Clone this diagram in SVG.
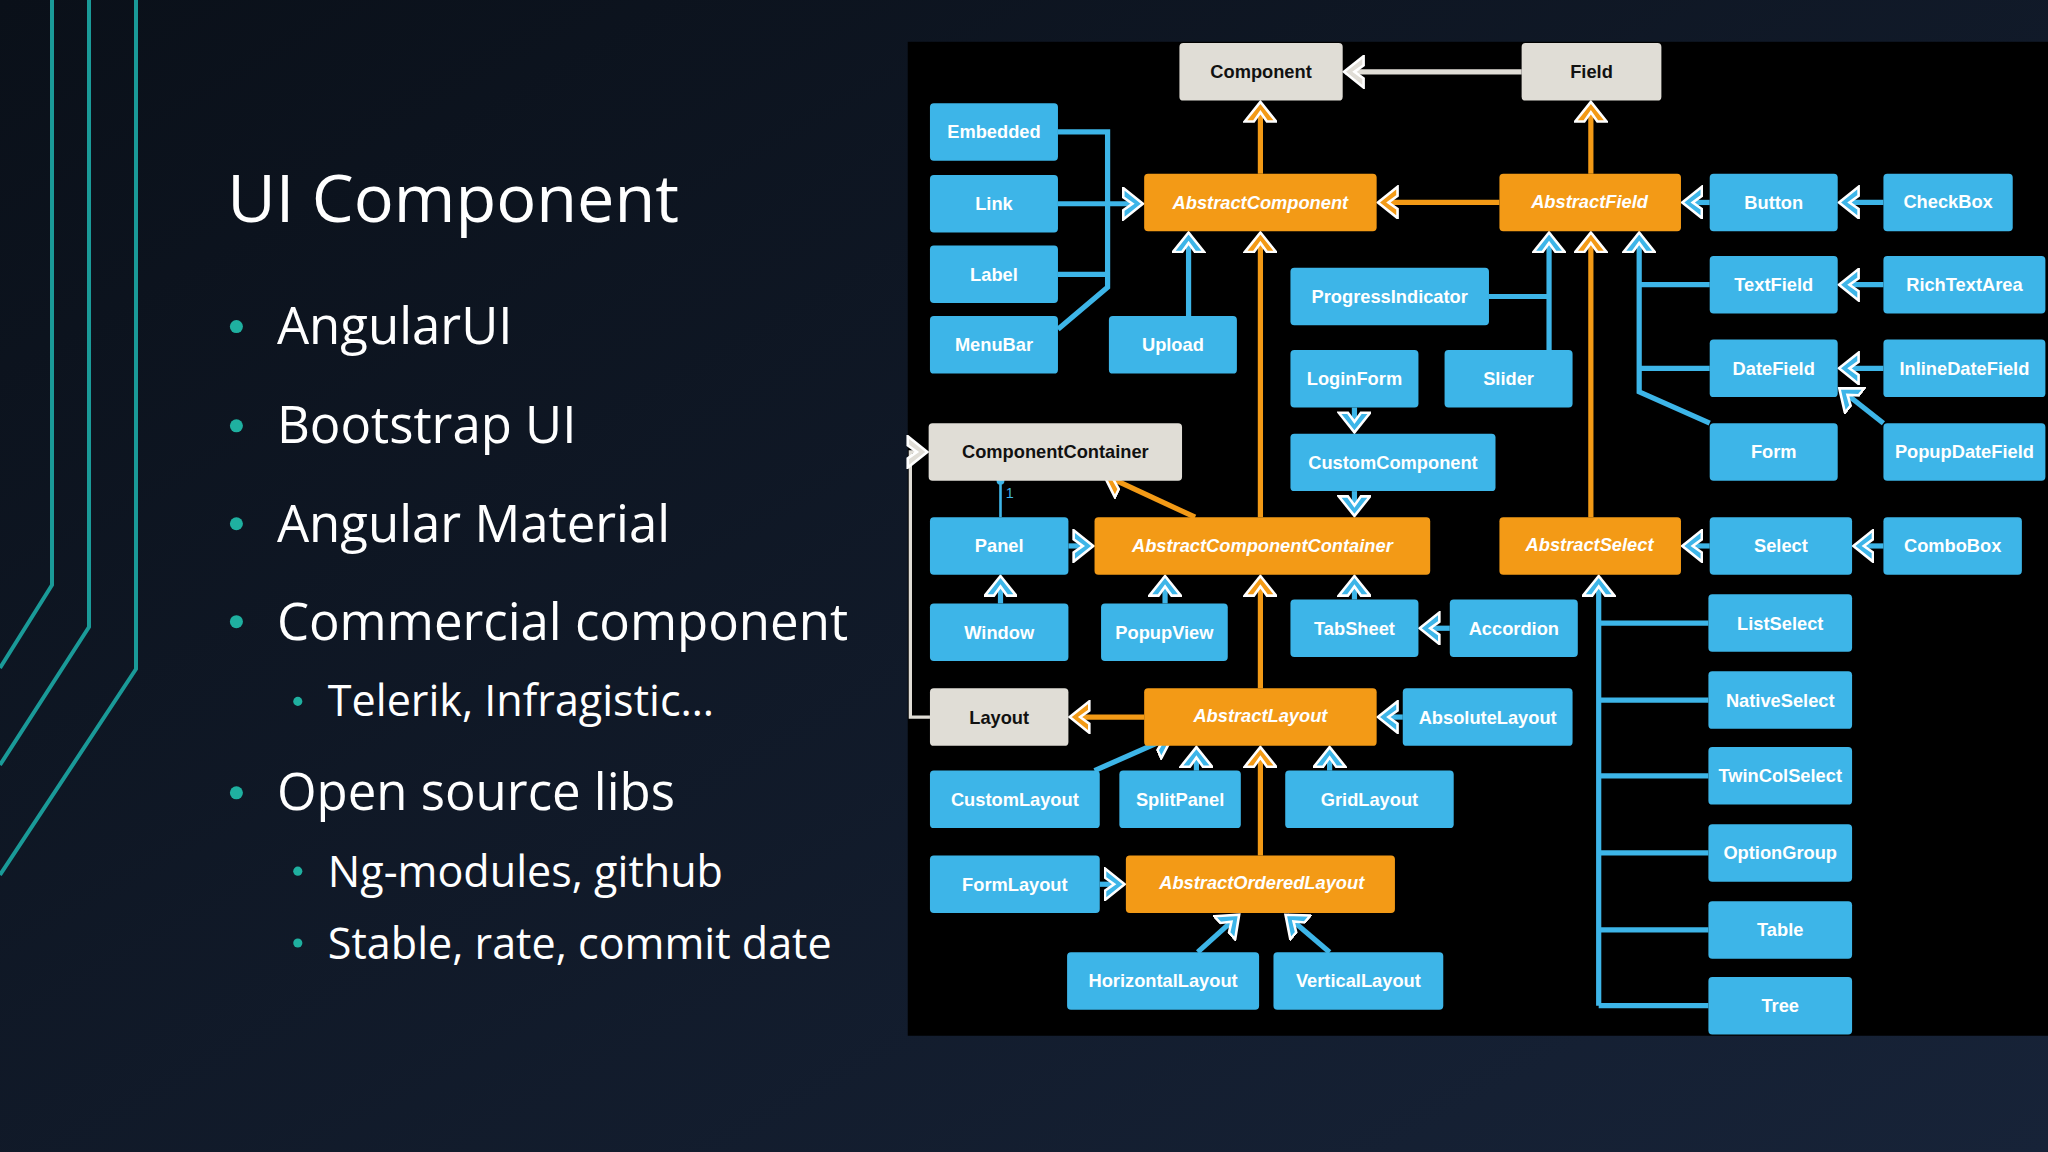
<svg xmlns="http://www.w3.org/2000/svg" width="2048" height="1152" viewBox="0 0 2048 1152">
<defs>
<linearGradient id="bg" x1="0" y1="0" x2="1" y2="1"><stop offset="0" stop-color="#0a1019"/><stop offset="1" stop-color="#172338"/></linearGradient>
<marker id="mb" markerUnits="userSpaceOnUse" markerWidth="18" markerHeight="26" refX="15" refY="13" orient="auto" viewBox="0 0 18 26"><path d="M1,1 L16,13 L1,25 L1,18 L8,13 L1,8 Z" fill="#3db5e8" stroke="#fff" stroke-width="2"/></marker>
<marker id="mo" markerUnits="userSpaceOnUse" markerWidth="18" markerHeight="26" refX="15" refY="13" orient="auto" viewBox="0 0 18 26"><path d="M1,1 L16,13 L1,25 L1,18 L8,13 L1,8 Z" fill="#f39a16" stroke="#fff" stroke-width="2"/></marker>
<marker id="mg" markerUnits="userSpaceOnUse" markerWidth="18" markerHeight="26" refX="15" refY="13" orient="auto" viewBox="0 0 18 26"><path d="M1,1 L16,13 L1,25 L1,18 L8,13 L1,8 Z" fill="#e0ddd6" stroke="#fff" stroke-width="2"/></marker>
<style>
.b rect{fill:#3db5e8}
.o rect{fill:#f39a16}
.g rect{fill:#e0ddd6}
text.n{font-family:"Liberation Sans",Arial,sans-serif;font-weight:bold;font-size:14px;fill:#fff;text-anchor:middle}
.o text.n{font-style:italic}
.g text.n{fill:#111}
.lb{stroke:#3db5e8;stroke-width:4;fill:none}
.lo{stroke:#f39a16;stroke-width:4;fill:none}
.lg{stroke:#e0ddd6;stroke-width:4;fill:none}
.ab{marker-end:url(#mb)}
.ao{marker-end:url(#mo)}
.ag{marker-end:url(#mg)}
.t{font-family:"Open Sans","Liberation Sans",sans-serif;fill:#fff}
</style>
</defs>
<rect width="2048" height="1152" fill="url(#bg)"/>
<g stroke="#1a9a98" stroke-width="4" fill="none">
<path d="M52,0 V585 L0,668"/>
<path d="M89,0 V627 L0,765"/>
<path d="M136,0 V669 L0,875"/>
</g>
<g transform="scale(1.30612)">
<g class="t">
<text x="174" y="170" font-size="51">UI Component</text>
<g font-size="39">
<text x="212" y="263">AngularUI</text>
<text x="212" y="339">Bootstrap UI</text>
<text x="212" y="415">Angular Material</text>
<text x="212" y="490">Commercial component</text>
<text x="212" y="620">Open source libs</text>
</g>
<g font-size="33">
<text x="251" y="548">Telerik, Infragistic…</text>
<text x="251" y="679">Ng-modules, github</text>
<text x="251" y="734">Stable, rate, commit date</text>
</g>
<g fill="#1fb0a0"><circle cx="181" cy="250" r="5"/><circle cx="181" cy="326" r="5"/><circle cx="181" cy="401" r="5"/><circle cx="181" cy="476" r="5"/><circle cx="181" cy="607" r="5"/><circle cx="228" cy="537" r="3.5"/><circle cx="228" cy="667" r="3.5"/><circle cx="228" cy="722" r="3.5"/></g>
</g>
<rect x="695" y="32" width="873" height="761" fill="#000"/>
<g id="connectors">
<path class="lg ag" d="M1165,55 H1030"/>
<path class="lo ao" d="M965,133 V79"/>
<path class="lo ao" d="M1218,133 V79"/>
<path class="lo ao" d="M1148,155 H1056"/>
<path class="lb" d="M810,101 H848 V220 L810,252 M810,210 H848"/>
<path class="lb ab" d="M810,156 H874"/>
<path class="lb ab" d="M910,242 V179"/>
<path class="lo ao" d="M965,396 V179"/>
<path class="lb ab" d="M1309,155 H1289"/>
<path class="lb ab" d="M1442,155 H1409"/>
<path class="lb" d="M1140,227 H1186"/>
<path class="lb ab" d="M1186,268 V179"/>
<path class="lo ao" d="M1218,396 V179"/>
<path class="lb ab" d="M1309,324 L1255,300 V179"/>
<path class="lb" d="M1309,218 H1255 M1309,282 H1255"/>
<path class="lb ab" d="M1442,218 H1409"/>
<path class="lb ab" d="M1442,282 H1409"/>
<path class="lb ab" d="M1442,324 L1409,298"/>
<path class="lb ab" d="M1037,312 V330"/>
<path class="lb ab" d="M1037,376 V394"/>
<path class="lo ao" d="M915,396 L846,364"/>
<path stroke="#3db5e8" stroke-width="2" fill="none" d="M766,396 V368"/>
<circle cx="766" cy="368" r="3" fill="#3db5e8"/>
<text x="770" y="381" font-family="Liberation Sans,sans-serif" font-size="11" fill="#3db5e8">1</text>
<path stroke="#e0ddd6" stroke-width="2.5" fill="none" class="ag" d="M712,549 H697 V346 H709"/>
<path class="lb ab" d="M818,418 H836"/>
<path class="lb ab" d="M766,462 V442"/>
<path class="lb ab" d="M892,462 V442"/>
<path class="lb ab" d="M1037,459 V442"/>
<path class="lb ab" d="M1110,481 H1088"/>
<path class="lo ao" d="M965,527 V442"/>
<path class="lo ao" d="M876,549 H820"/>
<path class="lb ab" d="M1074,549 H1056"/>
<path class="lb ab" d="M838,590 L897,564"/>
<path class="lb ab" d="M916,590 V573"/>
<path class="lb ab" d="M1018,590 V573"/>
<path class="lo ao" d="M965,655 V573"/>
<path class="lb ab" d="M842,677 H860"/>
<path class="lb ab" d="M917,729 L948,701"/>
<path class="lb ab" d="M1018,729 L985,701"/>
<path class="lb ab" d="M1309,418 H1289"/>
<path class="lb ab" d="M1442,418 H1420"/>
<path class="lb ab" d="M1224,770 V442"/>
<path class="lb" d="M1224,477 H1308 M1224,536 H1308 M1224,594 H1308 M1224,653 H1308 M1224,712 H1308 M1224,770 H1308"/>
</g>
<g id="Component" class="g"><rect x="903" y="33" width="125" height="44" rx="3"/><text class="n" x="965.5" y="60">Component</text></g>
<g id="Field" class="g"><rect x="1165" y="33" width="107" height="44" rx="3"/><text class="n" x="1218.5" y="60">Field</text></g>
<g id="Embedded" class="b"><rect x="712" y="79" width="98" height="44" rx="3"/><text class="n" x="761" y="106">Embedded</text></g>
<g id="Link" class="b"><rect x="712" y="134" width="98" height="44" rx="3"/><text class="n" x="761" y="161">Link</text></g>
<g id="Label" class="b"><rect x="712" y="188" width="98" height="44" rx="3"/><text class="n" x="761" y="215">Label</text></g>
<g id="MenuBar" class="b"><rect x="712" y="242" width="98" height="44" rx="3"/><text class="n" x="761" y="269">MenuBar</text></g>
<g id="AbstractComponent" class="o"><rect x="876" y="133" width="178" height="44" rx="3"/><text class="n" x="965" y="160">AbstractComponent</text></g>
<g id="Upload" class="b"><rect x="849" y="242" width="98" height="44" rx="3"/><text class="n" x="898" y="269">Upload</text></g>
<g id="AbstractField" class="o"><rect x="1148" y="133" width="139" height="44" rx="3"/><text class="n" x="1217" y="159">AbstractField</text></g>
<g id="Button" class="b"><rect x="1309" y="133" width="98" height="44" rx="3"/><text class="n" x="1358" y="160">Button</text></g>
<g id="CheckBox" class="b"><rect x="1442" y="133" width="99" height="44" rx="3"/><text class="n" x="1491.5" y="159">CheckBox</text></g>
<g id="ProgressIndicator" class="b"><rect x="988" y="205" width="152" height="44" rx="3"/><text class="n" x="1064" y="232">ProgressIndicator</text></g>
<g id="TextField" class="b"><rect x="1309" y="196" width="98" height="44" rx="3"/><text class="n" x="1358" y="223">TextField</text></g>
<g id="RichTextArea" class="b"><rect x="1442" y="196" width="124" height="44" rx="3"/><text class="n" x="1504" y="223">RichTextArea</text></g>
<g id="LoginForm" class="b"><rect x="988" y="268" width="98" height="44" rx="3"/><text class="n" x="1037" y="295">LoginForm</text></g>
<g id="Slider" class="b"><rect x="1106" y="268" width="98" height="44" rx="3"/><text class="n" x="1155" y="295">Slider</text></g>
<g id="DateField" class="b"><rect x="1309" y="260" width="98" height="44" rx="3"/><text class="n" x="1358" y="287">DateField</text></g>
<g id="InlineDateField" class="b"><rect x="1442" y="260" width="124" height="44" rx="3"/><text class="n" x="1504" y="287">InlineDateField</text></g>
<g id="Form" class="b"><rect x="1309" y="324" width="98" height="44" rx="3"/><text class="n" x="1358" y="351">Form</text></g>
<g id="PopupDateField" class="b"><rect x="1442" y="324" width="124" height="44" rx="3"/><text class="n" x="1504" y="351">PopupDateField</text></g>
<g id="ComponentContainer" class="g"><rect x="711" y="324" width="194" height="44" rx="3"/><text class="n" x="808" y="351">ComponentContainer</text></g>
<g id="CustomComponent" class="b"><rect x="988" y="332" width="157" height="44" rx="3"/><text class="n" x="1066.5" y="359">CustomComponent</text></g>
<g id="Panel" class="b"><rect x="712" y="396" width="106" height="44" rx="3"/><text class="n" x="765" y="423">Panel</text></g>
<g id="AbstractComponentContainer" class="o"><rect x="838" y="396" width="257" height="44" rx="3"/><text class="n" x="966.5" y="423">AbstractComponentContainer</text></g>
<g id="AbstractSelect" class="o"><rect x="1148" y="396" width="139" height="44" rx="3"/><text class="n" x="1217" y="422">AbstractSelect</text></g>
<g id="Select" class="b"><rect x="1309" y="396" width="109" height="44" rx="3"/><text class="n" x="1363.5" y="423">Select</text></g>
<g id="ComboBox" class="b"><rect x="1442" y="396" width="106" height="44" rx="3"/><text class="n" x="1495" y="423">ComboBox</text></g>
<g id="Window" class="b"><rect x="712" y="462" width="106" height="44" rx="3"/><text class="n" x="765" y="489">Window</text></g>
<g id="PopupView" class="b"><rect x="843" y="462" width="97" height="44" rx="3"/><text class="n" x="891.5" y="489">PopupView</text></g>
<g id="TabSheet" class="b"><rect x="988" y="459" width="98" height="44" rx="3"/><text class="n" x="1037" y="486">TabSheet</text></g>
<g id="Accordion" class="b"><rect x="1110" y="459" width="98" height="44" rx="3"/><text class="n" x="1159" y="486">Accordion</text></g>
<g id="ListSelect" class="b"><rect x="1308" y="455" width="110" height="44" rx="3"/><text class="n" x="1363" y="482">ListSelect</text></g>
<g id="Layout" class="g"><rect x="712" y="527" width="106" height="44" rx="3"/><text class="n" x="765" y="554">Layout</text></g>
<g id="AbstractLayout" class="o"><rect x="876" y="527" width="178" height="44" rx="3"/><text class="n" x="965" y="553">AbstractLayout</text></g>
<g id="AbsoluteLayout" class="b"><rect x="1074" y="527" width="130" height="44" rx="3"/><text class="n" x="1139" y="554">AbsoluteLayout</text></g>
<g id="NativeSelect" class="b"><rect x="1308" y="514" width="110" height="44" rx="3"/><text class="n" x="1363" y="541">NativeSelect</text></g>
<g id="CustomLayout" class="b"><rect x="712" y="590" width="130" height="44" rx="3"/><text class="n" x="777" y="617">CustomLayout</text></g>
<g id="SplitPanel" class="b"><rect x="857" y="590" width="93" height="44" rx="3"/><text class="n" x="903.5" y="617">SplitPanel</text></g>
<g id="GridLayout" class="b"><rect x="984" y="590" width="129" height="44" rx="3"/><text class="n" x="1048.5" y="617">GridLayout</text></g>
<g id="TwinColSelect" class="b"><rect x="1308" y="572" width="110" height="44" rx="3"/><text class="n" x="1363" y="599">TwinColSelect</text></g>
<g id="OptionGroup" class="b"><rect x="1308" y="631" width="110" height="44" rx="3"/><text class="n" x="1363" y="658">OptionGroup</text></g>
<g id="FormLayout" class="b"><rect x="712" y="655" width="130" height="44" rx="3"/><text class="n" x="777" y="682">FormLayout</text></g>
<g id="AbstractOrderedLayout" class="o"><rect x="862" y="655" width="206" height="44" rx="3"/><text class="n" x="966" y="681">AbstractOrderedLayout</text></g>
<g id="Table" class="b"><rect x="1308" y="690" width="110" height="44" rx="3"/><text class="n" x="1363" y="717">Table</text></g>
<g id="HorizontalLayout" class="b"><rect x="817" y="729" width="147" height="44" rx="3"/><text class="n" x="890.5" y="756">HorizontalLayout</text></g>
<g id="VerticalLayout" class="b"><rect x="975" y="729" width="130" height="44" rx="3"/><text class="n" x="1040" y="756">VerticalLayout</text></g>
<g id="Tree" class="b"><rect x="1308" y="748" width="110" height="44" rx="3"/><text class="n" x="1363" y="775">Tree</text></g>
</g>
</svg>
